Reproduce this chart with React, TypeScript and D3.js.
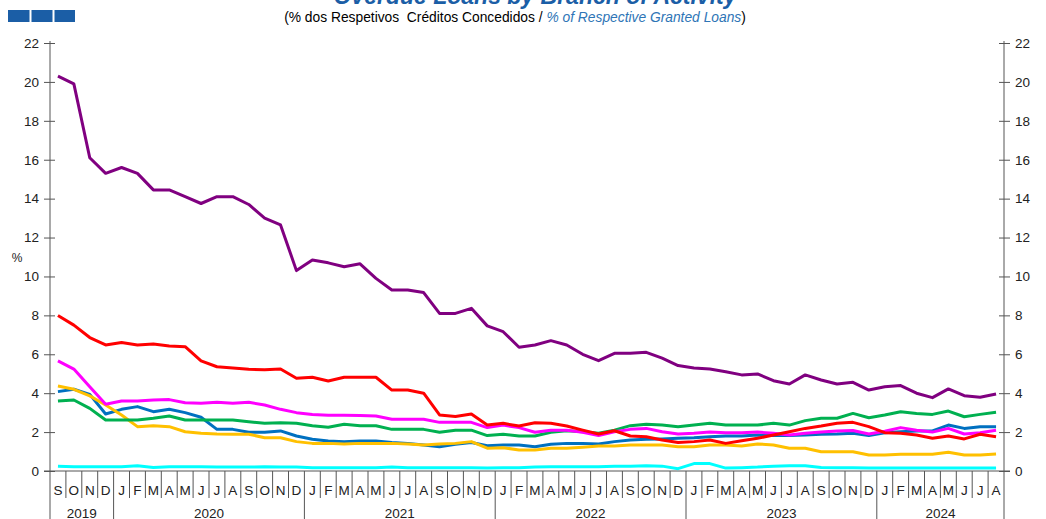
import * as d3 from 'd3';
import React, { useEffect, useRef } from 'react';

// Sep 2019 .. Aug 2024, one label per month
const monthLabels = ['S', 'O', 'N', 'D',
  'J', 'F', 'M', 'A', 'M', 'J', 'J', 'A', 'S', 'O', 'N', 'D',
  'J', 'F', 'M', 'A', 'M', 'J', 'J', 'A', 'S', 'O', 'N', 'D',
  'J', 'F', 'M', 'A', 'M', 'J', 'J', 'A', 'S', 'O', 'N', 'D',
  'J', 'F', 'M', 'A', 'M', 'J', 'J', 'A', 'S', 'O', 'N', 'D',
  'J', 'F', 'M', 'A', 'M', 'J', 'J', 'A'];

const years = ['2019', '2020', '2021', '2022', '2023', '2024'];
const monthsPerYear = [4, 12, 12, 12, 12, 8];

const yTicks = [0, 2, 4, 6, 8, 10, 12, 14, 16, 18, 20, 22];

const purple = [20.3, 19.9, 16.1, 15.3, 15.6, 15.3, 14.45, 14.45, 14.1, 13.75, 14.1, 14.1, 13.7, 13.0, 12.65,
  10.3, 10.85, 10.7, 10.5, 10.65, 9.9, 9.3, 9.3,
  9.17, 8.1, 8.1, 8.36, 7.46, 7.16, 6.36, 6.48, 6.7, 6.48, 6.0, 5.67, 6.05, 6.05, 6.1, 5.8, 5.42, 5.3,
  5.24, 5.1, 4.94, 4.99, 4.64, 4.47, 4.94, 4.68, 4.47, 4.56, 4.16, 4.33, 4.39, 4.0, 3.77, 4.22, 3.87, 3.79, 3.96];

const red = [7.99, 7.5, 6.86, 6.48, 6.6, 6.48, 6.53, 6.43, 6.39, 5.66, 5.36, 5.3, 5.23, 5.2, 5.24, 4.77, 4.82, 4.63, 4.82, 4.82,
  4.82, 4.16, 4.16, 4.0, 2.88, 2.8, 2.93, 2.36, 2.45, 2.31, 2.48, 2.45, 2.31, 2.1, 1.9, 2.07, 1.8, 1.76, 1.59, 1.46,
  1.51, 1.59, 1.42, 1.56, 1.68, 1.85, 2.02, 2.19, 2.31, 2.45, 2.5, 2.28, 1.97, 1.94, 1.85, 1.68, 1.8, 1.65, 1.89, 1.76];

const magenta = [5.66, 5.24, 4.33, 3.43, 3.6, 3.6, 3.65, 3.67, 3.51, 3.48, 3.53, 3.48, 3.53, 3.39, 3.17, 3.0, 2.91, 2.86, 2.86, 2.85,
  2.83, 2.66, 2.66, 2.66, 2.5, 2.5, 2.5, 2.23, 2.36, 2.23, 1.99, 2.1, 2.1, 1.99, 1.82, 2.02, 2.14, 2.19, 2.02, 1.9,
  1.94, 2.0, 1.97, 1.97, 2.0, 1.94, 1.85, 1.94, 2.0, 2.06, 2.08, 1.9, 2.04, 2.23, 2.1, 2.0, 2.19, 1.9, 1.97, 2.1];

const green = [3.6, 3.65, 3.22, 2.62, 2.62, 2.62, 2.71, 2.83, 2.62, 2.62, 2.62, 2.62, 2.53, 2.45, 2.48, 2.45, 2.33, 2.25, 2.4, 2.33,
  2.33, 2.14, 2.14, 2.14, 1.99, 2.1, 2.1, 1.82, 1.89, 1.8, 1.8, 1.99, 2.07, 2.02, 1.94, 2.1, 2.33, 2.4, 2.36, 2.28,
  2.36, 2.45, 2.36, 2.36, 2.36, 2.45, 2.36, 2.59, 2.71, 2.71, 2.96, 2.74, 2.88, 3.05, 2.96, 2.91, 3.08, 2.79, 2.91, 3.02];

const blue = [4.08, 4.2, 3.94, 2.93, 3.17, 3.31, 3.05, 3.17, 3.0, 2.76, 2.14, 2.14, 1.99, 1.99, 2.06, 1.8, 1.63, 1.54, 1.51, 1.54,
  1.54, 1.46, 1.42, 1.34, 1.25, 1.37, 1.46, 1.3, 1.34, 1.34, 1.25, 1.37, 1.42, 1.42, 1.39, 1.51, 1.59, 1.63, 1.65, 1.68,
  1.71, 1.76, 1.8, 1.8, 1.85, 1.82, 1.82, 1.85, 1.89, 1.9, 1.94, 1.82, 1.97, 2.02, 2.06, 2.06, 2.36, 2.19, 2.28, 2.28];

const yellow = [4.37, 4.2, 3.86, 3.39, 2.88, 2.28, 2.33, 2.28, 2.02, 1.94, 1.9, 1.89, 1.89, 1.71, 1.71, 1.51, 1.42, 1.42, 1.39, 1.42,
  1.42, 1.42, 1.39, 1.34, 1.39, 1.42, 1.51, 1.17, 1.2, 1.08, 1.08, 1.17, 1.17, 1.22, 1.28, 1.28, 1.34, 1.34, 1.34, 1.25,
  1.25, 1.34, 1.34, 1.28, 1.39, 1.34, 1.17, 1.17, 0.99, 0.99, 0.99, 0.82, 0.82, 0.86, 0.86, 0.86, 0.96, 0.82, 0.82, 0.87];

const cyan = [0.25, 0.22, 0.22, 0.22, 0.22, 0.27, 0.18, 0.22, 0.22, 0.22, 0.2, 0.2, 0.2, 0.22, 0.2, 0.2, 0.17, 0.17, 0.17, 0.17,
  0.17, 0.2, 0.17, 0.17, 0.17, 0.17, 0.17, 0.15, 0.17, 0.17, 0.2, 0.22, 0.22, 0.22, 0.22, 0.25, 0.25, 0.27, 0.25, 0.12,
  0.38, 0.38, 0.15, 0.17, 0.2, 0.25, 0.27, 0.27, 0.18, 0.17, 0.17, 0.15, 0.15, 0.15, 0.15, 0.15, 0.15, 0.15, 0.15, 0.15];

// drawing order (last one on top)
const seriesList = [
  { values: cyan, color: '#00FFFF' },
  { values: blue, color: '#0070C0' },
  { values: yellow, color: '#FFC000' },
  { values: green, color: '#00B050' },
  { values: magenta, color: '#FF00FF' },
  { values: red, color: '#FF0000' },
  { values: purple, color: '#800080' },
];

const W = 1046;
const H = 519;
const FONT = 'Liberation Sans, Arial, sans-serif';

export default function App() {
  const ref = useRef<SVGSVGElement>(null);

  useEffect(() => {
    const svg = d3.select(ref.current);
    svg.selectAll('*').remove();

    const left = 50, right = 1004, top = 43, bottom = 471;
    const n = monthLabels.length;

    const x = d3.scaleLinear().domain([0, n]).range([left, right]);
    const y = d3.scaleLinear().domain([0, 22]).range([bottom, top]);

    // header
    svg.append('rect').attr('x', 8).attr('y', 10).attr('width', 67).attr('height', 12).attr('fill', '#1B5EA6');
    svg.append('line').attr('x1', 30.5).attr('x2', 30.5).attr('y1', 10).attr('y2', 22).attr('stroke', '#fff').attr('stroke-width', 2);
    svg.append('line').attr('x1', 53.5).attr('x2', 53.5).attr('y1', 10).attr('y2', 22).attr('stroke', '#fff').attr('stroke-width', 2);

    svg.append('text')
      .attr('x', 535).attr('y', 4)
      .attr('text-anchor', 'middle')
      .style('font-family', FONT).style('font-size', '23px')
      .style('font-weight', 'bold').style('font-style', 'italic')
      .attr('fill', '#1B5EA6')
      .text('Overdue Loans by Branch of Activity');

    const sub = svg.append('text')
      .attr('x', 515).attr('y', 22)
      .attr('text-anchor', 'middle')
      .style('font-family', FONT).style('font-size', '13.8px')
      .attr('fill', '#000')
      .attr('xml:space', 'preserve')
      .style('white-space', 'pre');
    sub.append('tspan').text('(% dos Respetivos  Créditos Concedidos / ');
    sub.append('tspan').attr('fill', '#2E75B6').style('font-style', 'italic').text('% of Respective Granted Loans');
    sub.append('tspan').text(')');

    // y axes
    const axisColor = '#555';
    svg.append('g')
      .attr('transform', `translate(${left},0)`)
      .call(d3.axisLeft(y).tickValues(yTicks).tickSize(6).tickSizeOuter(0))
      .call(g => g.select('.domain').remove())
      .call(g => g.selectAll('.tick line').attr('x1', 5).attr('x2', -6).attr('stroke', axisColor))
      .call(g => g.selectAll('.tick text').attr('x', -11).attr('fill', '#222')
        .style('font-family', FONT).style('font-size', '13.5px'));

    svg.append('g')
      .attr('transform', `translate(${right},0)`)
      .call(d3.axisRight(y).tickValues(yTicks).tickSize(6).tickSizeOuter(0))
      .call(g => g.select('.domain').remove())
      .call(g => g.selectAll('.tick line').attr('x1', -5).attr('x2', 6).attr('stroke', axisColor))
      .call(g => g.selectAll('.tick text').attr('x', 11).attr('fill', '#222')
        .style('font-family', FONT).style('font-size', '13.5px'));

    svg.append('line').attr('x1', left).attr('x2', left).attr('y1', top - 2).attr('y2', H).attr('stroke', axisColor);
    svg.append('line').attr('x1', right).attr('x2', right).attr('y1', top - 2).attr('y2', H).attr('stroke', axisColor);

    svg.append('text')
      .attr('x', 17).attr('y', 262)
      .attr('text-anchor', 'middle')
      .style('font-family', FONT).style('font-size', '12px')
      .attr('fill', '#222')
      .text('%');

    // x axis
    svg.append('line').attr('x1', left - 6).attr('x2', right + 6).attr('y1', bottom).attr('y2', bottom).attr('stroke', axisColor);

    const yearStarts = d3.cumsum([0, ...monthsPerYear]);
    const yearBounds = new Set(Array.from(yearStarts));
    for (let i = 1; i < n; i++) {
      svg.append('line')
        .attr('x1', x(i)).attr('x2', x(i))
        .attr('y1', bottom).attr('y2', yearBounds.has(i) ? H : 498)
        .attr('stroke', axisColor);
    }

    svg.append('g')
      .selectAll('text')
      .data(monthLabels)
      .enter()
      .append('text')
      .attr('x', (d, i) => x(i + 0.5))
      .attr('y', 495)
      .attr('text-anchor', 'middle')
      .style('font-family', FONT).style('font-size', '13.5px')
      .attr('fill', '#222')
      .text(d => d);

    svg.append('g')
      .selectAll('text')
      .data(years)
      .enter()
      .append('text')
      .attr('x', (d, i) => x((yearStarts[i] + yearStarts[i + 1]) / 2))
      .attr('y', 518)
      .attr('text-anchor', 'middle')
      .style('font-family', FONT).style('font-size', '13.5px')
      .attr('fill', '#222')
      .text(d => d);

    // lines
    const line = d3.line<number>()
      .x((d, i) => x(i + 0.5))
      .y(d => y(d));

    svg.append('g')
      .selectAll('path')
      .data(seriesList)
      .enter()
      .append('path')
      .attr('d', d => line(d.values))
      .attr('fill', 'none')
      .attr('stroke', d => d.color)
      .attr('stroke-width', 3)
      .attr('stroke-linejoin', 'round');
  }, []);

  return (
    <div style={{ position: 'absolute', left: 0, top: 0, width: W, height: H, background: '#fff' }}>
      <svg ref={ref} width={W} height={H} style={{ display: 'block' }} />
    </div>
  );
}
